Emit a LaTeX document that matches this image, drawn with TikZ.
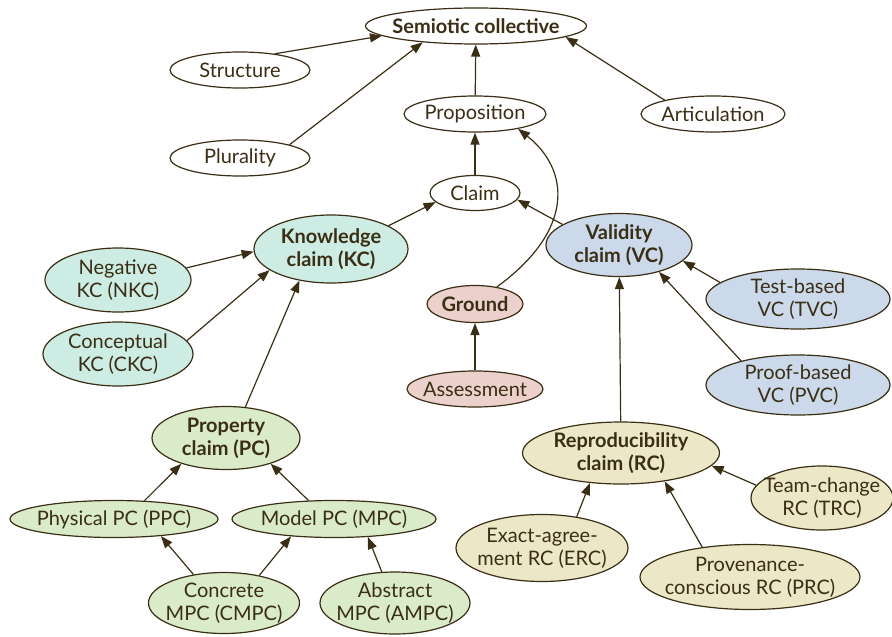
\documentclass[tikz,border=0pt]{standalone}
\usepackage{fontspec}
\setmainfont{Lato}
\usepackage{tikz}
\usetikzlibrary{arrows.meta, shapes.geometric, positioning, calc}

\definecolor{ink}{HTML}{3A2E14}
\definecolor{kcfill}{HTML}{CDECE4}
\definecolor{vcfill}{HTML}{CBD9EA}
\definecolor{grfill}{HTML}{ECD0CC}
\definecolor{pcfill}{HTML}{D9EBC9}
\definecolor{rcfill}{HTML}{ECE7C6}

\tikzset{
  concept/.style={draw=ink, line width=1.2pt, ellipse, inner xsep=-14pt, inner ysep=-6pt, fill=white, text=ink, align=center, font=\fontsize{20}{23}\selectfont},
  main/.style={font=\fontsize{20}{23}\selectfont\bfseries},
  kc/.style={concept, fill=kcfill},
  vc/.style={concept, fill=vcfill},
  gr/.style={concept, fill=grfill},
  pc/.style={concept, fill=pcfill},
  rc/.style={concept, fill=rcfill},
  link/.style={-{Triangle[length=12pt, width=9pt]}, draw=ink, line width=1.2pt}
}

\begin{document}
\begin{tikzpicture}[x=1pt, y=-1pt]
\useasboundingbox (0,0) rectangle (892,637);

\node[concept, main, minimum width=221pt, minimum height=36pt] (semio) at (476,26) {Semiotic collective};
\node[concept, minimum width=140pt, minimum height=36pt] (struct) at (240,70) {Structure};
\node[concept, minimum width=140pt, minimum height=36pt] (plural) at (240,158) {Plurality};
\node[concept, minimum width=142pt, minimum height=36pt] (prop) at (475,114) {Proposition};
\node[concept, minimum width=144pt, minimum height=36pt] (artic) at (713,114) {Articulation};
\node[concept, minimum width=90pt, minimum height=35pt] (claim) at (475,193) {Claim};

\node[kc, main, minimum width=154pt, minimum height=68pt] (kc) at (331,249) {Knowledge\\claim (KC)};
\node[kc, minimum width=146pt, minimum height=64pt] (nkc) at (118,280) {Negative\\KC (NKC)};
\node[kc, minimum width=150pt, minimum height=64pt] (ckc) at (118,354) {Conceptual\\KC (CKC)};

\node[vc, main, minimum width=146pt, minimum height=63pt] (vc) at (619,245) {Validity\\claim (VC)};
\node[vc, minimum width=184pt, minimum height=60pt] (tvc) at (798,299) {Test-based\\VC (TVC)};
\node[vc, minimum width=184pt, minimum height=60pt] (pvc) at (798,385) {Proof-based\\VC (PVC)};

\node[gr, main, minimum width=96pt, minimum height=37pt] (ground) at (475,304) {Ground};
\node[gr, minimum width=136pt, minimum height=36pt] (assess) at (475,389) {Assessment};

\node[pc, main, minimum width=148pt, minimum height=63pt] (pc) at (226,438) {Property\\claim (PC)};
\node[pc, minimum width=208pt, minimum height=37pt] (ppc) at (114,519) {Physical PC (PPC)};
\node[pc, minimum width=204pt, minimum height=37pt] (mpc) at (334,519) {Model PC (MPC)};
\node[pc, minimum width=151pt, minimum height=61pt] (cmpc) at (224,603) {Concrete\\MPC (CMPC)};
\node[pc, minimum width=150pt, minimum height=62pt] (ampc) at (395,603) {Abstract\\MPC (AMPC)};

\node[rc, main, minimum width=197pt, minimum height=62pt] (rc) at (621,453) {Reproducibility\\claim (RC)};
\node[rc, minimum width=142pt, minimum height=64pt] (trc) at (822,498) {Team-change\\RC (TRC)};
\node[rc, minimum width=172pt, minimum height=67pt] (erc) at (542,548) {Exact-agree-\\ment RC (ERC)};
\node[rc, minimum width=220pt, minimum height=65pt] (prc) at (750,577) {Provenance-\\conscious RC (PRC)};

% top level
\draw[link] (struct.25) -- (semio.186);
\draw[link] (plural.15) -- (semio.197);
\draw[link] (prop) -- (semio);
\draw[link] (artic.164) -- (semio.353);
\draw[link] (claim) -- (prop);
\draw[link] (ground.38) .. controls (575,230) and (570,170) .. (prop.-19);

% claims
\draw[link] (kc.22) -- (claim.193);
\draw[link] (vc.160) -- (claim.351);
\draw[link] (nkc.10) -- (kc.182);
\draw[link] (ckc.11) -- (kc.199);
\draw[link] (pc.58) -- (kc.225);
\draw[link] (assess) -- (ground);
\draw[link] (rc) -- (vc);
\draw[link] (tvc.168) -- (vc.346);
\draw[link] (pvc.157) -- (vc.326);

% property claims
\draw[link] (ppc.31) -- (pc.210);
\draw[link] (mpc.144) -- (pc.330);
\draw[link] (cmpc.137) -- (ppc.340);
\draw[link] (cmpc.38) -- (mpc.202);
\draw[link] (ampc.113) -- (mpc.332);

% reproducibility claims
\draw[link] (erc.42) -- (rc.224);
\draw[link] (prc.148) -- (rc.327);
\draw[link] (trc.169) -- (rc.352);
\end{tikzpicture}
\end{document}
